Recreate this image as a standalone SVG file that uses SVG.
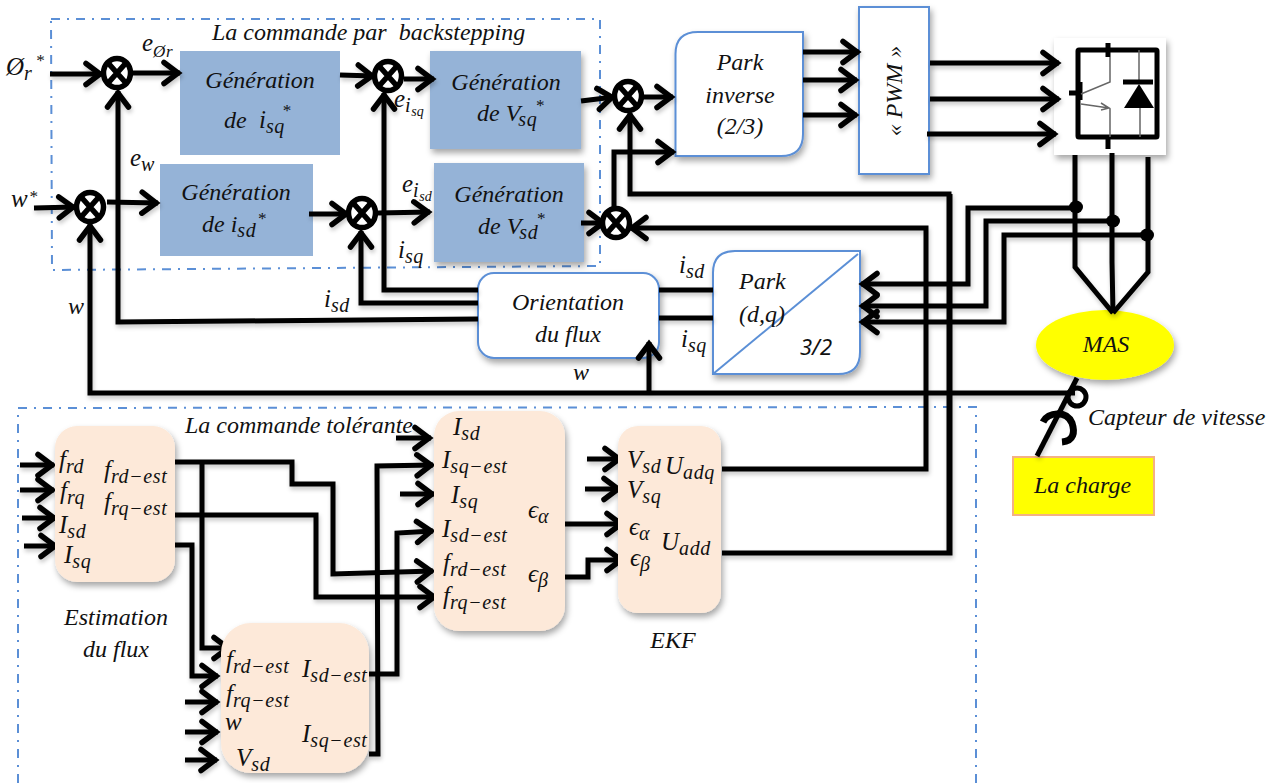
<svg xmlns="http://www.w3.org/2000/svg" width="1276" height="783" viewBox="0 0 1276 783">
<style>
text{font-family:"Liberation Serif","Times New Roman",serif;font-style:italic;fill:#111;font-size:24px}
.c{text-anchor:middle}
.m{font-size:25px}
.s{font-size:20px;letter-spacing:.6px}
.ss{font-size:14px}
.sup{font-size:17px}
.blue{fill:#95b3d7}
.peach{fill:#fde9d9}
.white{fill:#fff;stroke:#5b8fd6;stroke-width:2}
.dash{fill:none;stroke:#5b8fd6;stroke-width:2;stroke-dasharray:9 7 2 7}
.w{fill:none;stroke:#000;stroke-width:5;stroke-linejoin:miter}
.a{marker-end:url(#arr)}
.sum ellipse{fill:#fff;stroke:#000;stroke-width:5.500}
.sum path{stroke:#000;stroke-width:5.500;fill:none}
.thin{fill:none;stroke:#666;stroke-width:1.5}
.thick{fill:none;stroke:#000;stroke-width:5}
</style>
<defs>
<filter id="sh" x="-15%" y="-15%" width="130%" height="130%"><feDropShadow dx="2" dy="4" stdDeviation="3" flood-color="#000" flood-opacity=".35"/></filter>
<filter id="ls" x="-5%" y="-5%" width="110%" height="110%"><feDropShadow dx="1" dy="3" stdDeviation="2" flood-color="#000" flood-opacity=".22"/></filter>
<marker id="arr" markerUnits="userSpaceOnUse" markerWidth="30" markerHeight="32" refX="24" refY="15" orient="auto" viewBox="0 0 30 32">
<path d="M8,4.500 L22,15 L8,25.500" fill="none" stroke="#000" stroke-width="5.500" stroke-linecap="round"/>
</marker>
</defs>

<path class="dash" d="M51,19 L600,19 L600,266 L52,270 Z"/>
<path class="dash" d="M18,783 L18,408 L976,407 L976,783"/>

<g id="n-gen-isq"><rect class="blue" x="180" y="51" width="160" height="104"/>
<text class="c" x="260" y="88">Génération</text>
<text x="224" y="128">de</text><text x="259" y="128"><tspan class="m">i</tspan><tspan class="s" dy="5">sq</tspan><tspan class="sup" dy="-17" dx="-3">*</tspan></text></g>
<g id="n-gen-vsq"><rect class="blue" x="430" y="51" width="151" height="98" filter="url(#sh)"/>
<text class="c" x="506" y="90">Génération</text>
<text x="477" y="121">de V<tspan class="s" dy="5" dx="-2">sq</tspan><tspan class="sup" dy="-15" dx="-2">*</tspan></text></g>
<g id="n-gen-isd"><rect class="blue" x="160" y="164" width="153" height="92"/>
<text class="c" x="236" y="200">Génération</text>
<text x="202" y="232">de i<tspan class="s" dy="5">sd</tspan><tspan class="sup" dy="-13" dx="1">*</tspan></text></g>
<g id="n-gen-vsd"><rect class="blue" x="434" y="163" width="150" height="99" filter="url(#sh)"/>
<text class="c" x="509" y="202">Génération</text>
<text x="478" y="234">de V<tspan class="s" dy="5" dx="-2">sd</tspan><tspan class="sup" dy="-15" dx="-2">*</tspan></text></g>

<g id="n-orientation"><rect class="white" x="478" y="273" width="181" height="85" rx="16" filter="url(#sh)"/>
<text class="c" x="568" y="310">Orientation</text><text class="c" x="568" y="342">du flux</text></g>

<g id="n-park-inverse"><path class="white" d="M698,32 H803 V134 Q803,156 781,156 H675.500 V54 Q675.500,32 698,32 Z" filter="url(#sh)"/>
<text class="c" x="740" y="70">Park</text><text class="c" x="740" y="103">inverse</text><text class="c" x="740" y="134">(2/3)</text></g>

<g id="n-pwm"><rect class="white" x="859" y="7" width="70" height="167" filter="url(#sh)"/>
<text class="c" transform="translate(902,91) rotate(-90)" x="0" y="0">« PWM »</text></g>

<g id="n-park"><path class="white" d="M735,251 H860 V352 Q860,374 838,374 H713 V273 Q713,251 735,251 Z" filter="url(#sh)"/>
<path d="M713,374 L858,254" fill="none" stroke="#5b8fd6" stroke-width="2"/>
<text x="739" y="289">Park</text><text x="739" y="322">(d,q)</text>
<text x="800" y="355" style="font-family:'Noto Sans',sans-serif;font-size:22px">3/2</text></g>

<g id="n-inverter"><rect x="1054" y="38" width="112" height="117" fill="#fff" filter="url(#sh)"/>
<rect class="thick" x="1078" y="50" width="79" height="87" rx="1"/>
<path class="thick" d="M1108,43 V57 M1108,137 V149 M1080,82 V100 M1069,93 H1080"/>
<path class="thin" d="M1110,57 V82 L1081,94 M1081,104 L1109,108 M1101,103 L1109,108 L1101,110 M1110,108 V137 M1139,50 V82 M1140,108 V137"/>
<path d="M1123,82 H1153" stroke="#000" stroke-width="5" fill="none"/>
<path d="M1139,84 L1124,108 H1154 Z" fill="#000"/></g>

<g id="n-mas"><ellipse cx="1105" cy="345" rx="69" ry="35" fill="#ff0" filter="url(#sh)"/>
<text class="c" x="1106" y="352">MAS</text></g>

<g id="n-charge"><rect x="1013" y="457" width="141" height="58" fill="#ff0" stroke="#f4b183" stroke-width="2"/>
<text x="1034" y="493">La charge</text></g>

<g id="connectors">
<g filter="url(#ls)">
<path class="w a" d="M50,74 H102"/>
<path class="w a" d="M132,73 H180"/>
<path class="w a" d="M340,75 L374,76"/>
<path class="w a" d="M404,79 H434"/>
<path class="w a" d="M581,101 L614,97"/>
<path class="w a" d="M643,97 H673"/>
<path class="w a" d="M34,208 L75,207"/>
<path class="w a" d="M107,202 L158,203"/>
<path class="w a" d="M309,214 H348"/>
<path class="w a" d="M378,213 L430,212"/>
<path class="w a" d="M581,223 H605"/>
<path class="w a" d="M478,319 L118,322 V91"/>
<path class="w a" d="M478,290 H384 V93"/>
<path class="w a" d="M478,303 H361 V231"/>
<path class="w a" d="M1075,393 H90 V224"/>
<path class="w a" d="M649,393 V342"/>
<path class="w a" d="M614,210 V152 H674"/>
<path class="w a" d="M949,552 V194 H630 V113"/>
<path class="w" d="M722,553 H950 V194"/>
<path class="w a" d="M722,469 H926 V228 H630"/>
<path class="w a" d="M803,52 H859"/>
<path class="w a" d="M803,80 H857"/>
<path class="w a" d="M803,115 H857"/>
<path class="w a" d="M930,63 H1059"/>
<path class="w a" d="M930,99 H1059"/>
<path class="w a" d="M927,134 H1056"/>
<path class="w" d="M1075,155 V267 L1113,313"/>
<path class="w" d="M1112,153 V262 L1113,313"/>
<path class="w" d="M1148,157 V272 L1113,313"/>
<path class="w a" d="M1076,208 H968 V284 H861"/>
<path class="w a" d="M1113,221 H986 V306 H861"/>
<path class="w a" d="M1147,235 H1004 V322 H861"/>
<path class="w" d="M659,290 H713"/>
<path class="w" d="M659,318 H713"/>
<path class="w a" d="M20,465 H54"/>
<path class="w a" d="M20,490 H54"/>
<path class="w a" d="M22,518 H56"/>
<path class="w a" d="M24,546 H57"/>
<path class="w a" d="M175,462 H292 V484 H333 V574 L433,571"/>
<path class="w a" d="M175,515 H316 V597 H436"/>
<path class="w a" d="M202,462 V648 H230"/>
<path class="w a" d="M175,545 H192 V676 H218"/>
<path class="w a" d="M185,702 H218"/>
<path class="w a" d="M185,732 H218"/>
<path class="w a" d="M185,760 H217"/>
<path class="w a" d="M367,674 H397 V533 L433,531"/>
<path class="w a" d="M369,754 H378 L377,466 L433,465"/>
<path class="w a" d="M396,438 H431"/>
<path class="w a" d="M400,494 H434"/>
<path class="w a" d="M565,524 H623"/>
<path class="w a" d="M565,577 H588 V560 H623"/>
<path class="w a" d="M587,459 H621"/>
<path class="w a" d="M585,489 H620"/>
<path class="w" d="M1077,378 L1037,456"/>
</g>
<ellipse cx="1076" cy="207" rx="7" ry="6.500"/>
<ellipse cx="1113" cy="221" rx="7" ry="6.500"/>
<ellipse cx="1147" cy="235" rx="7" ry="6.500"/>
<circle cx="1077" cy="397" r="9" fill="none" stroke="#000" stroke-width="5"/>
<path d="M1043,422 C1048,412 1066,410 1072,423 C1075,432 1074,441 1062,442" fill="none" stroke="#000" stroke-width="7"/>
</g>

<g id="s1" class="sum"><ellipse cx="117" cy="73" rx="13.500" ry="14.500"/><path d="M109,64 L125,82 M125,64 L109,82"/></g>
<g id="s2" class="sum"><ellipse cx="388" cy="76" rx="13.500" ry="14.500"/><path d="M380,67 L396,85 M396,67 L380,85"/></g>
<g id="s3" class="sum"><ellipse cx="90" cy="207" rx="13.500" ry="14.500"/><path d="M82,198 L98,216 M98,198 L82,216"/></g>
<g id="s4" class="sum"><ellipse cx="362" cy="213" rx="13.500" ry="14.500"/><path d="M354,204 L370,222 M370,204 L354,222"/></g>
<g id="s5" class="sum"><ellipse cx="628" cy="96" rx="13.500" ry="14.500"/><path d="M620,87 L636,105 M636,87 L620,105"/></g>
<g id="s6" class="sum"><ellipse cx="616" cy="223" rx="13.500" ry="14.500"/><path d="M608,214 L624,232 M624,214 L608,232"/></g>

<g id="n-estimation"><rect class="peach" x="55" y="426" width="120" height="156" rx="22" filter="url(#sh)"/>
<text class="m" x="59" y="468">f<tspan class="s" dy="5">rd</tspan></text>
<text class="m" x="60" y="499">f<tspan class="s" dy="5">rq</tspan></text>
<text class="m" x="59" y="533">I<tspan class="s" dy="5">sd</tspan></text>
<text class="m" x="64" y="563">I<tspan class="s" dy="5">sq</tspan></text>
<text class="m" x="104" y="478">f<tspan class="s" dy="5">rd−est</tspan></text>
<text class="m" x="104" y="510">f<tspan class="s" dy="5">rq−est</tspan></text>
<text class="c" x="116" y="625">Estimation</text><text class="c" x="116" y="657">du flux</text></g>

<g id="n-observer"><rect class="peach" x="221" y="623" width="148" height="150" rx="30" filter="url(#sh)"/>
<text class="m" x="226" y="668">f<tspan class="s" dy="5">rd−est</tspan></text>
<text class="m" x="226" y="702">f<tspan class="s" dy="5">rq−est</tspan></text>
<text class="m" x="225" y="730">w</text>
<text class="m" x="236" y="766">V<tspan class="s" dy="5">sd</tspan></text>
<text class="m" x="302" y="677">I<tspan class="s" dy="5">sd−est</tspan></text>
<text class="m" x="302" y="742">I<tspan class="s" dy="5">sq−est</tspan></text></g>

<g id="n-residual"><rect class="peach" x="434" y="411" width="131" height="220" rx="25" filter="url(#sh)"/>
<text class="m" x="453" y="435">I<tspan class="s" dy="5">sd</tspan></text>
<text class="m" x="442" y="468">I<tspan class="s" dy="5">sq−est</tspan></text>
<text class="m" x="451" y="503">I<tspan class="s" dy="5">sq</tspan></text>
<text class="m" x="442" y="537">I<tspan class="s" dy="5">sd−est</tspan></text>
<text class="m" x="443" y="571">f<tspan class="s" dy="5">rd−est</tspan></text>
<text class="m" x="443" y="604">f<tspan class="s" dy="5">rq−est</tspan></text>
<text class="m" x="528" y="518">ϵ<tspan class="s" dy="5">α</tspan></text>
<text class="m" x="528" y="582">ϵ<tspan class="s" dy="5">β</tspan></text></g>

<g id="n-ekf"><rect class="peach" x="618" y="426" width="103" height="187" rx="20" filter="url(#sh)"/>
<text class="m" x="627" y="468">V<tspan class="s" dy="5">sd</tspan></text>
<text class="m" x="627" y="498">V<tspan class="s" dy="5">sq</tspan></text>
<text class="m" x="629" y="535">ϵ<tspan class="s" dy="5">α</tspan></text>
<text class="m" x="630" y="566">ϵ<tspan class="s" dy="5">β</tspan></text>
<text class="m" x="665" y="474">U<tspan class="s" dy="5">adq</tspan></text>
<text class="m" x="661" y="550">U<tspan class="s" dy="5">add</tspan></text>
<text class="c" x="673" y="648">EKF</text></g>

<g id="labels">
<text x="212" y="40">La commande par&#160; backstepping</text>
<text x="185" y="433">La commande tolérante</text>
<text x="1088" y="425">Capteur de vitesse</text>
<text x="6" y="75"><tspan class="m">Ø</tspan><tspan class="s" dy="5">r</tspan><tspan class="sup" dy="-14" dx="3">*</tspan></text>
<text x="11" y="207"><tspan class="m">w</tspan><tspan class="sup" dy="-5" dx="1">*</tspan></text>
<text x="142" y="51"><tspan class="m">e</tspan><tspan class="s" dy="6" style="font-size:17px">Ør</tspan></text>
<text x="130" y="166"><tspan class="m">e</tspan><tspan class="s" dy="5">w</tspan></text>
<text x="394" y="107"><tspan class="m">e</tspan><tspan class="s" dy="5">i</tspan><tspan class="ss" dy="4">sq</tspan></text>
<text x="402" y="192"><tspan class="m">e</tspan><tspan class="s" dy="5">i</tspan><tspan class="ss" dy="4">sd</tspan></text>
<text x="398" y="258"><tspan class="m">i</tspan><tspan class="s" dy="5">sq</tspan></text>
<text x="324" y="307"><tspan class="m">i</tspan><tspan class="s" dy="5">sd</tspan></text>
<text x="68" y="314">w</text>
<text x="573" y="380">w</text>
<text x="679" y="273"><tspan class="m">i</tspan><tspan class="s" dy="5">sd</tspan></text>
<text x="681" y="347"><tspan class="m">i</tspan><tspan class="s" dy="5">sq</tspan></text>
</g>
</svg>
